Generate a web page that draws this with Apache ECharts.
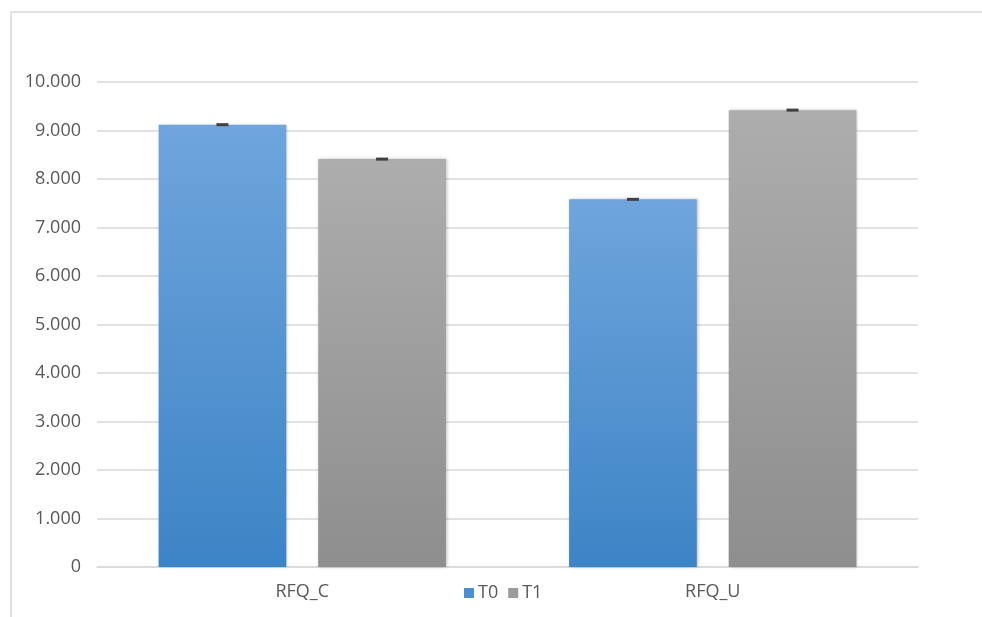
<!DOCTYPE html>
<html>
<head>
<meta charset="utf-8">
<script src="https://cdn.jsdelivr.net/npm/echarts@6/dist/echarts.min.js"></script>
<style>
html,body{margin:0;padding:0;background:#fff;}
#EchartBox{width:982px;height:617px;}
</style>
</head>
<body>
<div id="EchartBox"></div>
<script>
var categories = ['RFQ_C', 'RFQ_U'];
var seriesNames = ['T0', 'T1'];
var valuesT0 = [9.12, 7.58];
var valuesT1 = [8.41, 9.42];
var errT0 = [0.02, 0.02];
var errT1 = [0.02, 0.02];
var yTicks = { min: 0, max: 10, interval: 1 };

var barGapPct = 0.25;
var catGapPct = 0.30;

// 误差线小帽子
function errRender(seriesIdx) {
	return function (params, api) {
		var cat = api.value(0);
		var val = api.value(1);
		var c = api.coord([cat, val]);
		var band = api.size([1, 0])[0];
		var w = band * (1 - catGapPct) / (2 + barGapPct);
		var off = (w + w * barGapPct) / 2;
		var x = c[0] + (seriesIdx == 0 ? -off : off);
		return {
			type: 'rect',
			shape: { x: x - 6, y: c[1] - 1.5, width: 12, height: 3 },
			style: { fill: '#404040' },
			z2: 10
		};
	};
}

var blueGrad = new echarts.graphic.LinearGradient(0, 0, 0, 1, [
	{ offset: 0, color: '#6fa5dc' },
	{ offset: 1, color: '#3d84c6' }
]);
var grayGrad = new echarts.graphic.LinearGradient(0, 0, 0, 1, [
	{ offset: 0, color: '#adadad' },
	{ offset: 1, color: '#8e8e8e' }
]);

var errDataT0 = [], errDataT1 = [];
for (var i = 0; i < categories.length; i++) {
	errDataT0.push([i, valuesT0[i], errT0[i]]);
	errDataT1.push([i, valuesT1[i], errT1[i]]);
}

var myChart = echarts.init(document.getElementById('EchartBox'));
var option = {
	backgroundColor: '#fff',
	animation: false,
	graphic: [{
		type: 'rect',
		shape: { x: 11, y: 12, width: 1000, height: 700 },
		style: { fill: 'none', stroke: '#d9d9d9', lineWidth: 1.5 },
		silent: true
	}],
	grid: { left: 97, right: 64, top: 82, bottom: 50, containLabel: false },
	legend: {
		data: [
			{ name: 'T0', itemStyle: { color: '#4a8fd3' } },
			{ name: 'T1', itemStyle: { color: '#9b9b9b' } }
		],
		left: 459,
		top: 579,
		itemWidth: 10,
		itemHeight: 10,
		itemGap: 10,
		icon: 'rect',
		textStyle: { color: '#595959', fontSize: 18, fontFamily: 'Open Sans', padding: [0, 0, 0, -1] }
	},
	xAxis: {
		type: 'category',
		data: categories,
		axisLine: { lineStyle: { color: '#d9d9d9', width: 1.5 } },
		axisTick: { show: false },
		axisLabel: { color: '#595959', fontSize: 18, fontFamily: 'Open Sans', margin: 16 }
	},
	yAxis: {
		type: 'value',
		min: yTicks.min,
		max: yTicks.max,
		interval: yTicks.interval,
		axisLine: { show: false },
		axisTick: { show: false },
		splitLine: { lineStyle: { color: '#d9d9d9', width: 1.5 } },
		axisLabel: {
			color: '#595959', fontSize: 18, fontFamily: 'Open Sans', margin: 16,
			formatter: function (v) { return v == 0 ? '0' : v.toFixed(3); }
		}
	},
	series: [
		{
			name: seriesNames[0], type: 'bar', data: valuesT0,
			barGap: (barGapPct * 100) + '%', barCategoryGap: (catGapPct * 100) + '%',
			itemStyle: { color: blueGrad, shadowColor: 'rgba(0,0,0,0.25)', shadowBlur: 3, shadowOffsetX: 1 }
		},
		{
			name: seriesNames[1], type: 'bar', data: valuesT1,
			itemStyle: { color: grayGrad, shadowColor: 'rgba(0,0,0,0.25)', shadowBlur: 3, shadowOffsetX: 1 }
		},
		{ type: 'custom', renderItem: errRender(0), data: errDataT0, z: 5, silent: true },
		{ type: 'custom', renderItem: errRender(1), data: errDataT1, z: 5, silent: true }
	]
};
myChart.setOption(option);
</script>
</body>
</html>
